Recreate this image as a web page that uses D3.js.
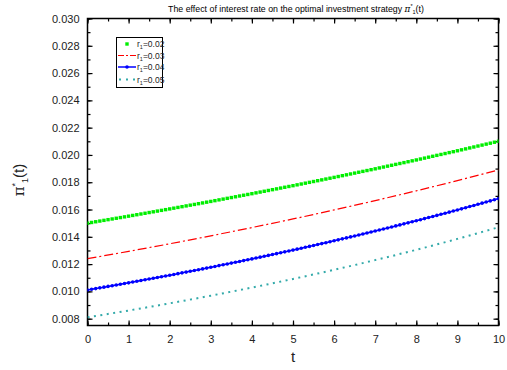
<!DOCTYPE html>
<html><head><meta charset="utf-8">
<script src="https://cdn.jsdelivr.net/npm/d3@7"></script>
<style>body{margin:0;background:#fff}svg{display:block;font-family:"Liberation Sans",Arial,sans-serif}</style>
</head><body><svg id="c" width="507" height="370"></svg>
<script>
const tFine = d3.range(0, 101).map(i => i / 10);
const tCoarse = [0,1,2,3,4,5,6,7,8,9,10];
const xTicks = [0,1,2,3,4,5,6,7,8,9,10];
const yTicks = [0.008,0.010,0.012,0.014,0.016,0.018,0.020,0.022,0.024,0.026,0.028,0.030];
const seriesNames = ["0.02","0.03","0.04","0.05"];
const green = [0.015000,0.015051,0.015103,0.015154,0.015205,0.015257,0.015308,0.015359,0.015410,0.015462,
0.015513,0.015566,0.015619,0.015672,0.015725,0.015779,0.015832,0.015885,0.015938,0.015991,
0.016044,0.016099,0.016154,0.016209,0.016264,0.016319,0.016373,0.016428,0.016483,0.016538,
0.016593,0.016650,0.016707,0.016763,0.016820,0.016877,0.016934,0.016991,0.017047,0.017104,
0.017161,0.017220,0.017278,0.017337,0.017396,0.017455,0.017513,0.017572,0.017631,0.017689,
0.017748,0.017809,0.017869,0.017930,0.017991,0.018052,0.018112,0.018173,0.018234,0.018294,
0.018355,0.018418,0.018481,0.018543,0.018606,0.018669,0.018732,0.018795,0.018857,0.018920,
0.018983,0.019048,0.019113,0.019178,0.019243,0.019308,0.019373,0.019438,0.019503,0.019568,
0.019633,0.019700,0.019767,0.019835,0.019902,0.019969,0.020036,0.020103,0.020171,0.020238,
0.020305,0.020375,0.020444,0.020514,0.020583,0.020653,0.020722,0.020792,0.020861,0.020931,0.021000];
const red = [0.012400,0.012934,0.013491,0.014071,0.014677,0.015309,0.015968,0.016655,0.017372,0.018120,0.018900];
const blue = [0.010100,0.010153,0.010205,0.010258,0.010311,0.010364,0.010416,0.010469,0.010522,0.010574,
0.010627,0.010683,0.010738,0.010794,0.010849,0.010905,0.010960,0.011016,0.011071,0.011127,
0.011182,0.011240,0.011299,0.011357,0.011415,0.011474,0.011532,0.011591,0.011649,0.011707,
0.011766,0.011827,0.011889,0.011950,0.012011,0.012073,0.012134,0.012195,0.012257,0.012318,
0.012380,0.012444,0.012509,0.012573,0.012638,0.012703,0.012767,0.012832,0.012897,0.012961,
0.013026,0.013094,0.013162,0.013230,0.013298,0.013366,0.013434,0.013502,0.013570,0.013638,
0.013706,0.013778,0.013849,0.013921,0.013992,0.014064,0.014135,0.014207,0.014278,0.014350,
0.014422,0.014497,0.014572,0.014647,0.014723,0.014798,0.014873,0.014949,0.015024,0.015099,
0.015174,0.015253,0.015333,0.015412,0.015491,0.015570,0.015650,0.015729,0.015808,0.015887,
0.015967,0.016050,0.016133,0.016217,0.016300,0.016383,0.016467,0.016550,0.016633,0.016717,0.016800];
const teal = [0.008100,0.008597,0.009125,0.009686,0.010281,0.010912,0.011582,0.012293,0.013048,0.013850,0.014700];

const svg = d3.select("#c");
const L = 87.5, R = 498.5, T = 18.5, B = 325.5;
const x = d3.scaleLinear().domain([0,10]).range([L,R]);
const y = d3.scaleLinear().domain([0.0075,0.030]).range([B,T]);

// title
const title = svg.append("text").attr("x",296).attr("y",12).attr("text-anchor","middle")
  .attr("font-size",8.8).attr("fill","#000");
title.append("tspan").text("The effect of interest rate on the optimal investment strategy ");
title.append("tspan").attr("font-family","DejaVu Serif").attr("font-style","italic").text("π");
title.append("tspan").attr("font-size",5.5).attr("dy",-4).text("*");
title.append("tspan").attr("font-size",5.5).attr("dy",6).text("1");
title.append("tspan").attr("dy",-2).text("(t)");

// axes
const minorX = d3.range(0,10.01,0.5);
const minorY = d3.range(0.008,0.0301,0.001);
const axB = d3.axisBottom(x).tickValues(xTicks).tickSizeInner(-5).tickSizeOuter(0).tickPadding(8).tickFormat(d3.format("d"));
const axL = d3.axisLeft(y).tickValues(yTicks).tickSizeInner(-5).tickSizeOuter(0).tickPadding(8).tickFormat(d3.format(".3f"));
const gB = svg.append("g").attr("transform",`translate(0,${B})`).call(axB);
const gL = svg.append("g").attr("transform",`translate(${L},0)`).call(axL);
svg.append("g").attr("transform",`translate(0,${T})`).call(d3.axisTop(x).tickValues(xTicks).tickSizeInner(-5).tickSizeOuter(0).tickFormat(""));
svg.append("g").attr("transform",`translate(${R},0)`).call(d3.axisRight(y).tickValues(yTicks).tickSizeInner(-5).tickSizeOuter(0).tickFormat(""));
// minor ticks
svg.append("g").attr("transform",`translate(0,${B})`).call(d3.axisBottom(x).tickValues(minorX).tickSizeInner(-3).tickSizeOuter(0).tickFormat(""));
svg.append("g").attr("transform",`translate(0,${T})`).call(d3.axisTop(x).tickValues(minorX).tickSizeInner(-3).tickSizeOuter(0).tickFormat(""));
svg.append("g").attr("transform",`translate(${L},0)`).call(d3.axisLeft(y).tickValues(minorY).tickSizeInner(-3).tickSizeOuter(0).tickFormat(""));
svg.append("g").attr("transform",`translate(${R},0)`).call(d3.axisRight(y).tickValues(minorY).tickSizeInner(-3).tickSizeOuter(0).tickFormat(""));
svg.selectAll(".domain").remove();
svg.selectAll(".tick line").attr("stroke","#000").attr("stroke-width",1.2);
svg.selectAll(".tick text").attr("font-size",11).attr("fill","#222").attr("font-family","Liberation Sans, Arial, sans-serif");
gB.selectAll(".tick text").attr("dy","0.9em");
svg.append("rect").attr("x",L).attr("y",T).attr("width",R-L).attr("height",B-T)
  .attr("fill","none").attr("stroke","#000").attr("stroke-width",1.5);

// clip
svg.append("clipPath").attr("id","clp").append("rect").attr("x",L).attr("y",T).attr("width",R-L).attr("height",B-T);
const plot = svg.append("g").attr("clip-path","url(#clp)");

const lineF = d3.line().x(d=>x(d[0])).y(d=>y(d[1]));
const lineC = d3.line().x(d=>x(d[0])).y(d=>y(d[1])).curve(d3.curveMonotoneX);

// teal dotted
plot.append("path").datum(tCoarse.map((t,i)=>[t,teal[i]])).attr("d",lineC)
  .attr("fill","none").attr("stroke","#33aaaa").attr("stroke-width",2).attr("stroke-dasharray","2,4.5");
// red dash-dot
plot.append("path").datum(tCoarse.map((t,i)=>[t,red[i]])).attr("d",lineC)
  .attr("fill","none").attr("stroke","#ff0000").attr("stroke-width",1.2).attr("stroke-dasharray","9,3,2,3");
// blue line + markers
const bd = tFine.map((t,i)=>[t,blue[i]]);
plot.append("path").datum(bd).attr("d",lineF).attr("fill","none").attr("stroke","#0000ff").attr("stroke-width",1.5);
plot.selectAll(".bm").data(bd).join("circle").attr("cx",d=>x(d[0])).attr("cy",d=>y(d[1])).attr("r",1.8).attr("fill","#0000ff");
// green squares
const gd = tFine.map((t,i)=>[t,green[i]]);
plot.selectAll(".gm").data(gd).join("rect").attr("x",d=>x(d[0])-1.7).attr("y",d=>y(d[1])-1.7)
  .attr("width",3.4).attr("height",3.4).attr("fill","#00ee00");

// axis titles
svg.append("text").attr("x",293).attr("y",362).attr("text-anchor","middle").attr("font-size",15).attr("fill","#222").text("t");
const yt = svg.append("text").attr("transform","translate(24,180) rotate(-90)").attr("text-anchor","middle").attr("font-size",15).attr("fill","#222");
yt.append("tspan").attr("font-family","DejaVu Serif").text("π");
yt.append("tspan").attr("font-size",9).attr("dy",-6).text("*");
yt.append("tspan").attr("font-size",9).attr("dy",10).text("1");
yt.append("tspan").attr("dy",-4).text("(t)");

// legend
const lg = svg.append("g");
lg.append("rect").attr("x",116.5).attr("y",37.5).attr("width",46).attr("height",50).attr("fill","#fff").attr("stroke","#000").attr("stroke-width",1);
const ly = [44,55.5,67,79.5];
const lx0 = 118, lx1 = 136;
lg.append("rect").attr("x",(lx0+lx1)/2-1.7).attr("y",ly[0]-1.7).attr("width",3.4).attr("height",3.4).attr("fill","#00ee00");
lg.append("line").attr("x1",lx0).attr("x2",lx1).attr("y1",ly[1]).attr("y2",ly[1]).attr("stroke","#ff0000").attr("stroke-width",1.2).attr("stroke-dasharray","6,2,2,2");
lg.append("line").attr("x1",lx0).attr("x2",lx1).attr("y1",ly[2]).attr("y2",ly[2]).attr("stroke","#0000ff").attr("stroke-width",1.5);
lg.append("circle").attr("cx",(lx0+lx1)/2).attr("cy",ly[2]).attr("r",1.8).attr("fill","#0000ff");
lg.append("line").attr("x1",lx0+1).attr("x2",lx1).attr("y1",ly[3]).attr("y2",ly[3]).attr("stroke","#33aaaa").attr("stroke-width",2).attr("stroke-dasharray","2,5");
seriesNames.forEach((n,i)=>{
  const tx = lg.append("text").attr("x",137).attr("y",ly[i]+3).attr("font-size",8.5).attr("fill","#222");
  tx.append("tspan").text("r");
  tx.append("tspan").attr("font-size",5.5).attr("dy",2).text("1");
  tx.append("tspan").attr("dy",-2).text("="+n);
});
</script></body></html>
